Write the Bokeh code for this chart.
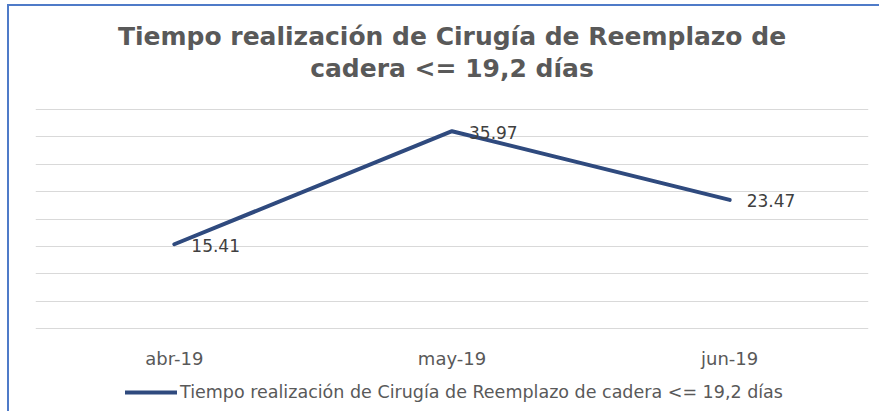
from bokeh.plotting import figure
from bokeh.layouts import column
from bokeh.models import ColumnDataSource, Range1d, FactorRange, FixedTicker, Label, Legend, LegendItem
from bokeh.core.properties import value
from bokeh.embed import file_html
from bokeh.resources import INLINE

months = ["abr-19", "may-19", "jun-19"]
days = [15.41, 35.97, 23.47]
labels = ["15.41", "35.97", "23.47"]
y_ticks = [0, 5, 10, 15, 20, 25, 30, 35, 40]
title_lines = ["Tiempo realización de Cirugía de Reemplazo de", "cadera <= 19,2 días"]
series_name = "Tiempo realización de Cirugía de Reemplazo de cadera <= 19,2 días"

FONT = "DejaVu Sans"
GRAY = "#595959"
LINE = "#2F4A7E"
BORDER = "#4F7BC8"
W = 870
LB, RB = 26, 11


def strip(height, **kw):
    f = figure(width=W, height=height, output_backend="svg", toolbar_location=None, title=None,
               x_axis_location=None, y_axis_location=None,
               min_border_left=LB, min_border_right=RB, min_border_top=0, min_border_bottom=0, **kw)
    f.outline_line_color = None
    f.grid.visible = False
    return f


src = ColumnDataSource(dict(x=months, y=days, t=labels))

# ---- title strip ----
pt = strip(102)
for txt, yy in zip(title_lines, [72, 40]):
    pt.add_layout(Label(x=(W - LB - RB) / 2, y=yy, x_units="screen", y_units="screen", text=txt,
                        text_align="center", text_baseline="alphabetic", text_font=FONT,
                        text_font_size="25px", text_font_style="bold", text_color=GRAY))

# ---- main chart ----
p = figure(width=W, height=263, output_backend="svg", toolbar_location=None, title=None,
           x_range=FactorRange(*months, range_padding=0), y_range=Range1d(-0.1, 40.1),
           min_border_left=LB, min_border_right=RB, min_border_top=0, min_border_bottom=40)
p.outline_line_color = None
p.background_fill_color = "white"
p.border_fill_color = "white"

p.yaxis.visible = False
p.yaxis.ticker = FixedTicker(ticks=y_ticks)
p.ygrid.ticker = FixedTicker(ticks=y_ticks)
p.ygrid.grid_line_color = "#D9D9D9"
p.ygrid.grid_line_width = 1
p.xgrid.grid_line_color = None

xa = p.xaxis[0]
xa.axis_line_color = None
xa.major_tick_line_color = None
xa.minor_tick_line_color = None
xa.major_label_standoff = 12
xa.major_label_text_font = FONT
xa.major_label_text_font_size = "18px"
xa.major_label_text_color = GRAY

p.line("x", "y", source=src, line_color=LINE, line_width=4, line_cap="round", line_join="round")
p.text("x", "y", text="t", source=src, x_offset=17, y_offset=1, text_align="left",
       text_baseline="middle", text_font=value(FONT), text_font_size="17px", text_color="#404040")

# ---- legend strip (same series, drawn outside its visible range) ----
pl = strip(40, x_range=FactorRange(*months), y_range=Range1d(1000, 1001))
lr = pl.line("x", "y", source=src, line_color=LINE, line_width=4, line_cap="round")
legend = Legend(items=[LegendItem(label=series_name, renderers=[lr])], location=(90, 9),
                orientation="horizontal", glyph_width=52, glyph_height=20, label_standoff=3,
                padding=0, margin=0, border_line_color=None, background_fill_alpha=0,
                label_text_font=FONT, label_text_font_size="17.5px", label_text_color=GRAY)
pl.add_layout(legend, "center")

layout = column(pt, p, pl, spacing=0,
                styles={"margin-left": "7px", "margin-top": "4px",
                        "border-top": f"2px solid {BORDER}", "border-left": f"2px solid {BORDER}"})

open("out.html", "w").write(file_html(layout, INLINE))
